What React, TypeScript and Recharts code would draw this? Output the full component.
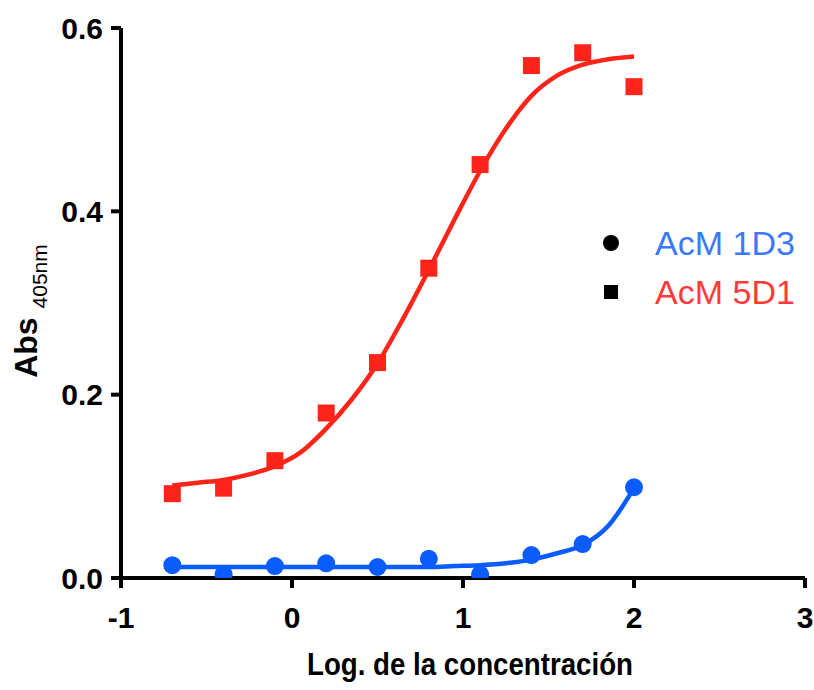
import React from 'react';
import {
  ComposedChart,
  Line,
  Scatter,
  XAxis,
  YAxis,
  Customized,
} from 'recharts';

// log concentration of each dilution
const logConc = [-0.7, -0.4, -0.1, 0.2, 0.5, 0.8, 1.1, 1.4, 1.7, 2.0];

// measured absorbance
const abs1D3 = [0.014, 0.004, 0.013, 0.016, 0.012, 0.021, 0.004, 0.025, 0.037, 0.099];
const abs5D1 = [0.092, 0.098, 0.128, 0.18, 0.235, 0.338, 0.451, 0.559, 0.573, 0.536];

// fitted curves
const fitX = [-0.7, -0.55, -0.4, -0.25, -0.1, 0.05, 0.2, 0.35, 0.5, 0.65, 0.8, 0.95, 1.1, 1.25, 1.4, 1.55, 1.7, 1.85, 2.0];
const fit1D3 = [0.012, 0.012, 0.012, 0.012, 0.012, 0.012, 0.012, 0.012, 0.012, 0.012, 0.012, 0.013, 0.014, 0.016, 0.02, 0.027, 0.036, 0.057, 0.098];
const fit5D1 = [0.101, 0.104, 0.107, 0.113, 0.122, 0.137, 0.163, 0.195, 0.234, 0.283, 0.336, 0.391, 0.444, 0.49, 0.526, 0.548, 0.56, 0.566, 0.569];

const xTicks = [-1, 0, 1, 2, 3];
const yTicks = [0, 0.2, 0.4, 0.6];

const seriesNames = ['AcM 1D3', 'AcM 5D1'];

const RED = '#ff2419';
const BLUE = '#0a5cff';
const FONT = '"Liberation Sans", Arial, sans-serif';

const pts1D3 = logConc.map((x, i) => ({ x, y: abs1D3[i] }));
const pts5D1 = logConc.map((x, i) => ({ x, y: abs5D1[i] }));
const curve1D3 = fitX.map((x, i) => ({ x, y: fit1D3[i] }));
const curve5D1 = fitX.map((x, i) => ({ x, y: fit5D1[i] }));

const Dot = (props: any) => <circle cx={props.cx} cy={props.cy} r={9} fill={BLUE} />;
const Square = (props: any) => (
  <rect x={props.cx - 8.5} y={props.cy - 8.5} width={17} height={17} fill={RED} />
);

const YTitle = () => (
  <text
    x={0}
    y={0}
    transform="translate(37, 311) rotate(-90)"
    textAnchor="middle"
    fontFamily={FONT}
    fill="#000"
  >
    <tspan fontSize={32} fontWeight="bold">Abs </tspan>
    <tspan fontSize={21} dy={10}>405nm</tspan>
  </text>
);

const XTitle = () => (
  <text
    x={470}
    y={675}
    textAnchor="middle"
    fontFamily={FONT}
    fontSize={32}
    fontWeight="bold"
    textLength={326}
    lengthAdjust="spacingAndGlyphs"
    fill="#000"
  >
    Log. de la concentración
  </text>
);

const LegendBox = () => (
  <g fontFamily={FONT} fontSize={33}>
    <circle cx={611} cy={243} r={8} fill="#000" />
    <text x={655} y={243} dy="0.36em" fill="#3a78ff" textLength={140} lengthAdjust="spacingAndGlyphs">
      {seriesNames[0]}
    </text>
    <rect x={604} y={285} width={14} height={14} fill="#000" />
    <text x={655} y={292} dy="0.36em" fill="#ff3a3a" textLength={140} lengthAdjust="spacingAndGlyphs">
      {seriesNames[1]}
    </text>
  </g>
);

const tickStyle = { fontSize: 30, fontWeight: 'bold', fill: '#000', fontFamily: FONT };

export default function App() {
  return (
    <div style={{ position: 'absolute', left: 0, top: 0, background: '#fff' }}>
      <ComposedChart width={814} height={690} margin={{ top: 28, right: 9, left: 0, bottom: 0 }}>
        <XAxis
          type="number"
          dataKey="x"
          domain={[-1, 3]}
          ticks={xTicks}
          interval={0}
          height={112}
          axisLine={{ stroke: '#000', strokeWidth: 4 }}
          tickLine={{ stroke: '#000', strokeWidth: 4 }}
          tickSize={10}
          tickMargin={19}
          tick={tickStyle}
          allowDataOverflow
        />
        <YAxis
          type="number"
          domain={[0, 0.6]}
          ticks={yTicks}
          interval={0}
          width={121}
          axisLine={{ stroke: '#000', strokeWidth: 4 }}
          tickLine={{ stroke: '#000', strokeWidth: 4 }}
          tickSize={10}
          tickMargin={8}
          tick={tickStyle}
          tickFormatter={(v: number) => v.toFixed(1)}
          allowDataOverflow
        />
        <Scatter name={seriesNames[0]} data={pts1D3} dataKey="y" shape={Dot} isAnimationActive={false} />
        <Scatter name={seriesNames[1]} data={pts5D1} dataKey="y" shape={Square} isAnimationActive={false} />
        <Line
          data={curve1D3}
          dataKey="y"
          type="monotone"
          stroke={BLUE}
          strokeWidth={4.5}
          dot={false}
          activeDot={false}
          isAnimationActive={false}
        />
        <Line
          data={curve5D1}
          dataKey="y"
          type="monotone"
          stroke={RED}
          strokeWidth={4.5}
          dot={false}
          activeDot={false}
          isAnimationActive={false}
        />
        <Customized component={YTitle} />
        <Customized component={XTitle} />
        <Customized component={LegendBox} />
      </ComposedChart>
    </div>
  );
}
